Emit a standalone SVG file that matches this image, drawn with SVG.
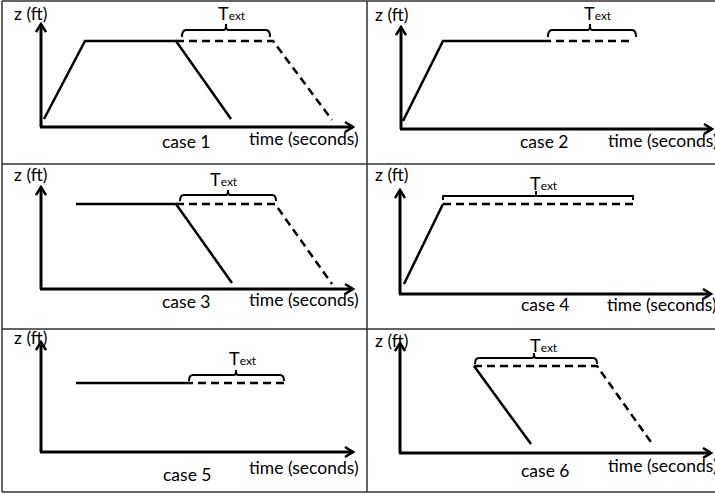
<svg xmlns="http://www.w3.org/2000/svg" width="715" height="494" viewBox="0 0 715 494">
<style>
.grid{stroke:#333;stroke-width:1.5;fill:none}
.ax{stroke:#000;stroke-width:3;fill:none}
.ln{stroke:#000;stroke-width:2.5;fill:none;stroke-linecap:butt}
.ds{stroke-dasharray:8 5}
.br{stroke:#000;stroke-width:2;fill:none}
text{font-family:Lato,"Liberation Sans",sans-serif;fill:#000}
.lbl{font-size:17.5px}
.t{font-size:18px}
.sub{font-size:12px}
</style>
<defs>
<marker id="arr" viewBox="0 0 12 12" markerWidth="12" markerHeight="12" refX="10" refY="6" orient="auto" markerUnits="userSpaceOnUse">
<path d="M2,1 L10,6 L2,11" fill="none" stroke="#000" stroke-width="2.5"/>
</marker>
</defs>
<rect width="715" height="494" fill="#fff"/>
<g id="table" class="grid">
<path d="M2,1 H716 M2,164 H716 M2,329 H716 M2,492 H716 M2,1 V492 M367,1 V492"/>
</g>
<g id="case1">
<g class="connectors">
<path class="ax" d="M41,127 V24" marker-end="url(#arr)"/>
<path class="ax" d="M40,127 H353" marker-end="url(#arr)"/>
<path class="ln" d="M44,119 L85,41 H176 L231,119"/>
<path class="ln ds" d="M176,41 H273 L332,120"/>
<path class="br" d="M182,37 Q182,30 186,30 H224 Q226,30 226,24 Q226,30 228,30 H266 Q270,30 270,37"/>
</g>
<text class="lbl" x="14" y="20">z (ft)</text>
<text class="t" x="218" y="20">T<tspan class="sub">ext</tspan></text>
<text class="lbl" x="162" y="148">case 1</text>
<text class="lbl" x="249" y="145">time (seconds)</text>
</g>
<g id="case2">
<g class="connectors">
<path class="ax" d="M401,129 V27" marker-end="url(#arr)"/>
<path class="ax" d="M400,129 H712" marker-end="url(#arr)"/>
<path class="ln" d="M403,121 L443,41 H543"/>
<path class="ln ds" d="M543,41 H633"/>
<path class="br" d="M548,37 Q548,30 552,30 H588 Q590,30 590,24 Q590,30 592,30 H632 Q636,30 636,37"/>
</g>
<text class="lbl" x="375" y="21">z (ft)</text>
<text class="t" x="584" y="20">T<tspan class="sub">ext</tspan></text>
<text class="lbl" x="520" y="148">case 2</text>
<text class="lbl" x="608" y="147">time (seconds)</text>
</g>
<g id="case3">
<g class="connectors">
<path class="ax" d="M41,289 V187" marker-end="url(#arr)"/>
<path class="ax" d="M40,289 H353" marker-end="url(#arr)"/>
<path class="ln" d="M76,204 H176 L232,283"/>
<path class="ln ds" d="M176,204 H275 L332,284"/>
<path class="br" d="M180,201 Q180,195 184,195 H226 Q228,195 228,190 Q228,195 230,195 H272 Q276,195 276,201"/>
</g>
<text class="lbl" x="14" y="181">z (ft)</text>
<text class="t" x="210" y="186">T<tspan class="sub">ext</tspan></text>
<text class="lbl" x="162" y="308">case 3</text>
<text class="lbl" x="249" y="306">time (seconds)</text>
</g>
<g id="case4">
<g class="connectors">
<path class="ax" d="M400,294 V190" marker-end="url(#arr)"/>
<path class="ax" d="M399,294 H711" marker-end="url(#arr)"/>
<path class="ln" d="M404,284 L443,204"/>
<path class="ln ds" d="M443,204 H633"/>
<path class="br" d="M443,200 V196 H633 V200 M536,196 V191"/>
</g>
<text class="lbl" x="375" y="181">z (ft)</text>
<text class="t" x="530" y="190">T<tspan class="sub">ext</tspan></text>
<text class="lbl" x="521" y="311">case 4</text>
<text class="lbl" x="607" y="311">time (seconds)</text>
</g>
<g id="case5">
<g class="connectors">
<path class="ax" d="M41,452 V342" marker-end="url(#arr)"/>
<path class="ax" d="M40,452 H353" marker-end="url(#arr)"/>
<path class="ln" d="M76,383 H185"/>
<path class="ln ds" d="M185,383 H284"/>
<path class="br" d="M189,381 Q189,375 193,375 H234 Q236,375 236,370 Q236,375 238,375 H280 Q284,375 284,381"/>
</g>
<text class="lbl" x="14" y="344">z (ft)</text>
<text class="t" x="229" y="365">T<tspan class="sub">ext</tspan></text>
<text class="lbl" x="163" y="481">case 5</text>
<text class="lbl" x="249" y="474">time (seconds)</text>
</g>
<g id="case6">
<g class="connectors">
<path class="ax" d="M400,453 V343" marker-end="url(#arr)"/>
<path class="ax" d="M399,453 H711" marker-end="url(#arr)"/>
<path class="ln" d="M474,366 L531,444"/>
<path class="ln ds" d="M474,366 H597 L653,445"/>
<path class="br" d="M475,364 Q475,358 479,358 H532 Q534,358 534,353 Q534,358 536,358 H593 Q597,358 597,364"/>
</g>
<text class="lbl" x="375" y="347">z (ft)</text>
<text class="t" x="530" y="352">T<tspan class="sub">ext</tspan></text>
<text class="lbl" x="521" y="477">case 6</text>
<text class="lbl" x="608" y="472">time (seconds)</text>
</g>
</svg>
